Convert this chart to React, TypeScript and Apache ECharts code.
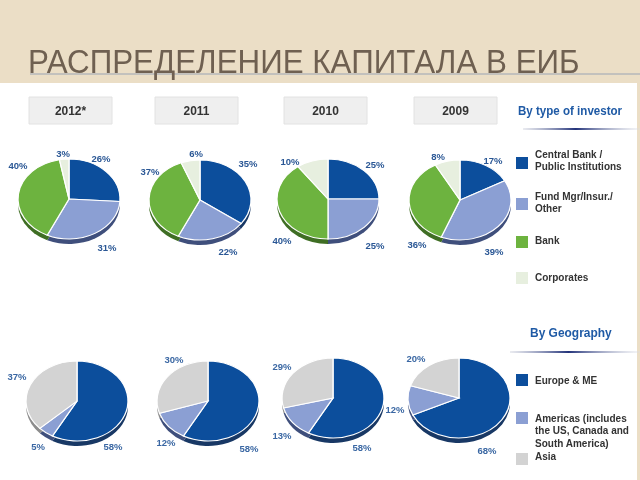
import React, { useEffect, useRef } from "react";
import * as echarts from "echarts";

// ---------- data ----------
const TITLE = "РАСПРЕДЕЛЕНИЕ КАПИТАЛА В ЕИБ";
const YEARS = ["2012*", "2011", "2010", "2009"];
const INVESTOR_HEADING = "By type of investor";
const GEO_HEADING = "By Geography";
const INVESTOR_TYPES = ["Central Bank /\nPublic Institutions", "Fund Mgr/Insur./\nOther", "Bank", "Corporates"];
const GEOGRAPHY = ["Europe & ME", "Americas (includes\nthe US, Canada and\nSouth America)", "Asia"];

const INVESTOR_2012 = [26, 31, 40, 3];
const INVESTOR_2011 = [35, 22, 37, 6];
const INVESTOR_2010 = [25, 25, 40, 10];
const INVESTOR_2009 = [17, 39, 36, 8];

const GEO_2012 = [58, 5, 37];
const GEO_2011 = [58, 12, 30];
const GEO_2010 = [58, 13, 29];
const GEO_2009 = [68, 12, 20];

// ---------- styles / layout ----------
const INV_COLORS = ["#0c4e9c", "#8b9fd3", "#6db33f", "#e7efdf"];
const INV_RIM = ["#183865", "#3f4f7c", "#3f6e24", "#a9b3a2"];
const GEO_COLORS = ["#0c4e9c", "#8b9fd3", "#d3d3d3"];
const GEO_RIM = ["#183865", "#3f4f7c", "#8c8c8c"];

const RX = 51;
const RY = 40;
const THICK = 5;

const TOP_CENTERS = [[69, 199], [200, 200], [328, 199], [460, 200]];
const BOTTOM_CENTERS = [[77, 401], [208, 401], [333, 398], [459, 398]];

const TOP_LABEL_OFFSETS = [
  [[32, -41], [38, 48], [-51, -34], [-6, -46]],
  [[48, -37], [28, 51], [-50, -29], [-4, -47]],
  [[47, -35], [47, 46], [-46, 41], [-38, -38]],
  [[33, -40], [34, 51], [-43, 44], [-22, -44]],
];
const BOTTOM_LABEL_OFFSETS = [
  [[36, 45], [-39, 45], [-60, -25]],
  [[41, 47], [-42, 41], [-34, -42]],
  [[29, 49], [-51, 37], [-51, -32]],
  [[28, 52], [-64, 11], [-43, -40]],
];

const YEAR_BOX_X = [29, 155, 284, 414];
const SANS = "'Liberation Sans', Arial, sans-serif";

function pieSeries(values: number[], center: number[], offsets: number[][], colors: string[], rims: string[], labelColor: string) {
  const total = values.reduce((a, b) => a + b, 0);
  const starts: number[] = [];
  let acc = 0;
  values.forEach((v) => {
    starts.push(acc);
    acc += v;
  });
  const sy = RY / RX;
  return {
    type: "custom",
    coordinateSystem: "none",
    silent: true,
    data: values.map((v) => [v]),
    renderItem: (params: any, api: any) => {
      const i = params.dataIndex;
      const v = api.value(0);
      const a0 = -Math.PI / 2 + (starts[i] / total) * Math.PI * 2;
      const a1 = a0 + (v / total) * Math.PI * 2;
      const [cx, cy] = center;
      const [lx, ly] = offsets[i];
      return {
        type: "group",
        children: [
          {
            type: "group",
            x: cx,
            y: cy,
            scaleY: sy,
            children: [
              {
                type: "sector",
                z2: 1,
                shape: { cx: 0, cy: THICK / sy, r: RX, r0: 0, startAngle: a0, endAngle: a1, clockwise: true },
                style: { fill: rims[i] },
              },
              {
                type: "sector",
                z2: 5,
                shape: { cx: 0, cy: 0, r: RX, r0: 0, startAngle: a0, endAngle: a1, clockwise: true },
                style: { fill: colors[i], stroke: "#ffffff", lineWidth: 1.3 },
              },
            ],
          },
          {
            type: "text",
            z2: 10,
            x: cx + lx,
            y: cy + ly,
            style: {
              text: v + "%",
              fill: labelColor,
              font: `bold 9.5px ${SANS}`,
              align: "center",
              verticalAlign: "middle",
            },
          },
        ],
      };
    },
  };
}

function legendItems(labels: string[], colors: string[], squareY: number[], textY: number[]) {
  const out: any[] = [];
  labels.forEach((lab, i) => {
    out.push({
      type: "rect",
      shape: { x: 516, y: squareY[i], width: 12, height: 12 },
      style: { fill: colors[i] },
    });
    out.push({
      type: "text",
      x: 535,
      y: textY[i],
      style: {
        text: lab,
        fill: "#333333",
        font: `bold 10px ${SANS}`,
        lineHeight: 12.5,
        align: "left",
        verticalAlign: "top",
      },
    });
  });
  return out;
}

export default function App() {
  const ref = useRef<HTMLDivElement>(null);
  useEffect(() => {
    if (!ref.current) return;
    const chart = echarts.init(ref.current, undefined, { renderer: "svg" });

    const invData = [INVESTOR_2012, INVESTOR_2011, INVESTOR_2010, INVESTOR_2009];
    const geoData = [GEO_2012, GEO_2011, GEO_2010, GEO_2009];

    const series: any[] = [];
    invData.forEach((vals, k) =>
      series.push(pieSeries(vals, TOP_CENTERS[k], TOP_LABEL_OFFSETS[k], INV_COLORS, INV_RIM, "#2a5795"))
    );
    geoData.forEach((vals, k) =>
      series.push(pieSeries(vals, BOTTOM_CENTERS[k], BOTTOM_LABEL_OFFSETS[k], GEO_COLORS, GEO_RIM, "#3a67a3"))
    );

    const underline = (x: number, y: number, w: number) => ({
      type: "rect",
      shape: { x, y, width: w, height: 2 },
      style: {
        fill: new echarts.graphic.LinearGradient(0, 0, 1, 0, [
          { offset: 0, color: "rgba(220,222,230,0.6)" },
          { offset: 0.45, color: "#23337a" },
          { offset: 1, color: "rgba(220,222,230,0.3)" },
        ]),
      },
    });

    const graphic: any[] = [
      { type: "rect", z: -10, shape: { x: 0, y: 0, width: 640, height: 480 }, style: { fill: "#ebdec6" } },
      { type: "rect", z: -8, shape: { x: 0, y: 83, width: 637, height: 397 }, style: { fill: "#ffffff" } },
      {
        type: "line",
        z: -7,
        shape: { x1: 30, y1: 74, x2: 640, y2: 74 },
        style: { stroke: "#9aa4b4", lineWidth: 1 },
      },
      {
        type: "text",
        z: -6,
        x: 28,
        y: 62,
        scaleX: 0.95,
        style: {
          text: TITLE,
          fill: "#6f6051",
          font: `33px ${SANS}`,
          align: "left",
          verticalAlign: "middle",
        },
      },
      ...YEARS.flatMap((yr, i) => [
        {
          type: "rect",
          z: -5,
          shape: { x: YEAR_BOX_X[i], y: 97, width: 83, height: 27 },
          style: { fill: "#efefef", stroke: "#e2e2e2", lineWidth: 1 },
        },
        {
          type: "text",
          z: -4,
          x: YEAR_BOX_X[i] + 41.5,
          y: 111,
          scaleX: 0.92,
          style: {
            text: yr,
            fill: "#333333",
            font: `bold 13px ${SANS}`,
            align: "center",
            verticalAlign: "middle",
          },
        },
      ]),
      {
        type: "text",
        x: 518,
        y: 111,
        scaleX: 0.89,
        style: {
          text: INVESTOR_HEADING,
          fill: "#1f5aa5",
          font: `bold 13px ${SANS}`,
          align: "left",
          verticalAlign: "middle",
        },
      },
      underline(523, 128, 117),
      {
        type: "text",
        x: 530,
        y: 333,
        scaleX: 0.92,
        style: {
          text: GEO_HEADING,
          fill: "#1f5aa5",
          font: `bold 13px ${SANS}`,
          align: "left",
          verticalAlign: "middle",
        },
      },
      underline(510, 351, 130),
      ...legendItems(INVESTOR_TYPES, INV_COLORS, [157, 198, 236, 272], [148, 190, 234, 271]),
      ...legendItems(GEOGRAPHY, GEO_COLORS, [374, 412, 453], [374, 412, 450]),
    ];

    chart.setOption({
      animation: false,
      graphic,
      series,
    });
    return () => chart.dispose();
  }, []);
  return <div ref={ref} style={{ position: "fixed", left: 0, top: 0, width: 640, height: 480 }} />;
}
